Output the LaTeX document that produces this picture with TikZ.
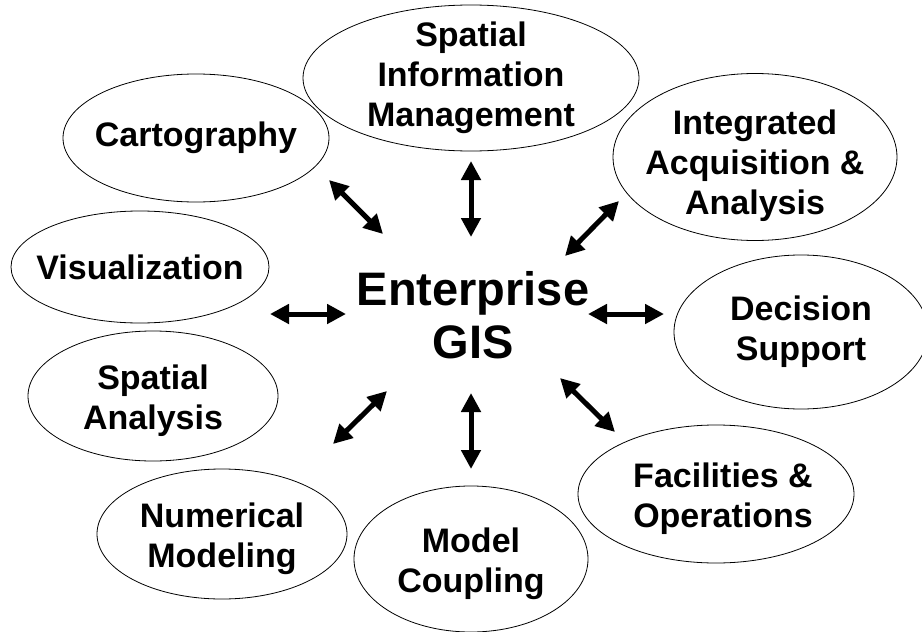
\documentclass[tikz,border=0pt]{standalone}
\usepackage{fontspec}
\setmainfont{Liberation Sans}
\usetikzlibrary{shapes.geometric,arrows.meta}

\begin{document}
\begin{tikzpicture}[x=1pt,y=-1pt,
  topic node/.style={ellipse,draw,line width=0.8pt,inner sep=0pt},
  topic text/.style={align=center,inner sep=0pt,font=\fontsize{34}{40}\selectfont\bfseries},
  link/.style={{Triangle[length=19pt,width=19pt]}-{Triangle[length=19pt,width=19pt]},line width=5pt}]
  \useasboundingbox (0,0) rectangle (922,632);

  \node[font=\fontsize{47}{53}\selectfont\bfseries,align=center] (gis) at (473,315) {Enterprise\\GIS};

  \node[topic node,minimum width=266pt,minimum height=128pt,
    label={[topic text]center:Cartography}] (cart) at (196,138) {};
  \node[topic node,minimum width=336pt,minimum height=146pt,
    label={[topic text]center:Spatial\\Information\\Management}] (sim) at (471,78) {};
  \node[topic node,minimum width=284pt,minimum height=167pt,
    label={[topic text,yshift=-9pt]center:Integrated\\Acquisition \&\\Analysis}] (iaa) at (755,157) {};
  \node[topic node,minimum width=258pt,minimum height=112pt,
    label={[topic text]center:Visualization}] (vis) at (140,267) {};
  \node[topic node,minimum width=254pt,minimum height=154pt,
    label={[topic text]center:Decision\\Support}] (dec) at (801,332) {};
  \node[topic node,minimum width=250pt,minimum height=130pt,
    label={[topic text,yshift=-5pt]center:Spatial\\Analysis}] (spa) at (153,396) {};
  \node[topic node,minimum width=250pt,minimum height=130pt,
    label={[topic text,yshift=-5pt]center:Numerical\\Modeling}] (num) at (222,534) {};
  \node[topic node,minimum width=234pt,minimum height=146pt,
    label={[topic text,yshift=-5pt]center:Model\\Coupling}] (cpl) at (471,559) {};
  \node[topic node,minimum width=276pt,minimum height=138pt,
    label={[topic text,xshift=7pt,yshift=-5pt]center:Facilities \&\\Operations}] (fac) at (716,494) {};

  \coordinate (cart a) at (329,180);
  \coordinate (cart b) at (383,234);
  \coordinate (sim a) at (471,161);
  \coordinate (sim b) at (471,237);
  \coordinate (iaa a) at (619,201);
  \coordinate (iaa b) at (565,256);
  \coordinate (vis a) at (270,314);
  \coordinate (vis b) at (346,314);
  \coordinate (dec a) at (664,314);
  \coordinate (dec b) at (588,314);
  \coordinate (spa a) at (333,444);
  \coordinate (spa b) at (387,391);
  \coordinate (cpl a) at (471,469);
  \coordinate (cpl b) at (471,393);
  \coordinate (fac a) at (615,432);
  \coordinate (fac b) at (560,378);

 \path[] (cart a) [link] edge (cart b);
 \path[] (sim a) [link] edge (sim b);
 \path[] (iaa a) [link] edge (iaa b);
 \path[] (vis a) [link] edge (vis b);
 \path[] (dec a) [link] edge (dec b);
 \path[] (spa a) [link] edge (spa b);
 \path[] (cpl a) [link] edge (cpl b);
 \path[] (fac a) [link] edge (fac b);
\end{tikzpicture}
\end{document}
